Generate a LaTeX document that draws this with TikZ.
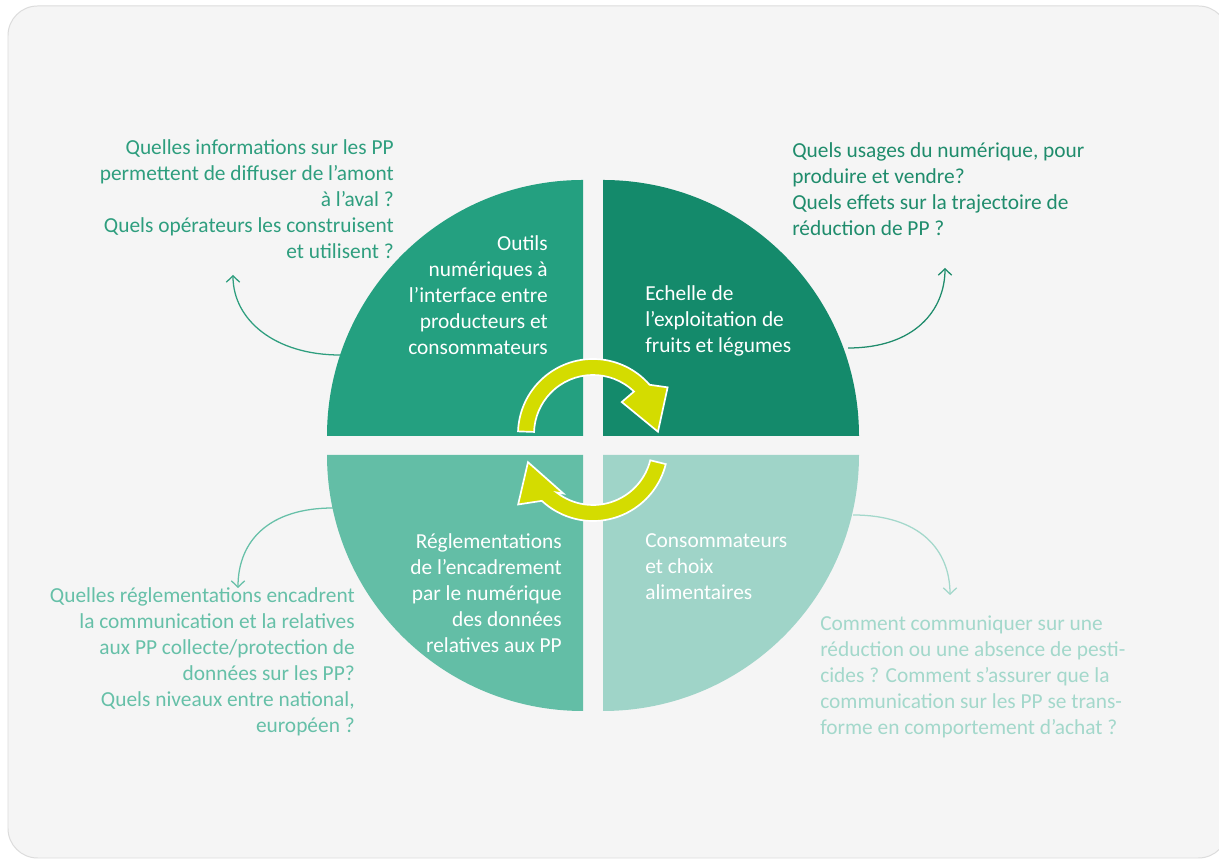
\documentclass[tikz,border=0pt]{standalone}
\usepackage{fontspec}
\setmainfont{Carlito}
\usepackage{xcolor}
\usetikzlibrary{arrows.meta}

\definecolor{bgGrey}{HTML}{F5F5F5}
\definecolor{frameGrey}{HTML}{DCDCDC}
\definecolor{quadTL}{HTML}{24A080}
\definecolor{quadTR}{HTML}{148A6B}
\definecolor{quadBL}{HTML}{63BEA6}
\definecolor{quadBR}{HTML}{9FD4C8}
\definecolor{txtTL}{HTML}{2E9E7E}
\definecolor{txtTR}{HTML}{1F8C6C}
\definecolor{txtBL}{HTML}{66C0A8}
\definecolor{txtBR}{HTML}{A3D8CB}
\definecolor{cycleYellow}{HTML}{D4DC00}

\begin{document}
\begin{tikzpicture}[x=0.025cm, y=0.025cm,
    question/.style={inner sep=0pt, font=\fontsize{15.2}{18.5}\selectfont},
    inlabel/.style={inner sep=0pt, text=white, font=\fontsize{15.2}{18.5}\selectfont},
    link/.style={line width=0.9pt, -{Straight Barb[length=4.5pt,width=9.5pt]}},
    turn/.style={fill=cycleYellow, draw=white, line width=1.2pt, line join=miter}]

    % page and rounded frame
    \useasboundingbox (0,0) rectangle (1219,860);
    \fill[white] (0,0) rectangle (1219,860);
    \draw[frameGrey, fill=bgGrey, line width=0.7pt, rounded corners=21pt] (8,854) rectangle (1228,2);

    % the four quarters
    \fill[quadTL] (583,424) -- ++(-256,0) arc[start angle=180, end angle=90, radius=256] -- cycle;
    \fill[quadTR] (603,424) -- ++(0,256) arc[start angle=90, end angle=0, radius=256] -- cycle;
    \fill[quadBL] (583,405) -- ++(0,-256) arc[start angle=270, end angle=180, radius=256] -- cycle;
    \fill[quadBR] (603,405) -- ++(256,0) arc[start angle=0, end angle=-90, radius=256] -- cycle;

    % yellow cycle arrows
    \begin{scope}[shift={(593,426)}]
        \filldraw[turn] (178:75) arc[start angle=178, end angle=41, radius=75]
            -- (32:88) -- (2:65) -- (48:43) -- (46:59)
            arc[start angle=46, end angle=178, radius=59] -- cycle;
    \end{scope}
    \begin{scope}[shift={(593,414)}]
        \filldraw[turn] (-14:75) arc[start angle=-14, end angle=-133, radius=75]
            -- (-142:95) -- (-166:67) -- (-122:56) -- (-128:59)
            arc[start angle=-128, end angle=-14, radius=59] -- cycle;
    \end{scope}

    % texts inside the quarters
    \node[inlabel, align=right, anchor=east] (tools) at (548,565)
        {Outils\\numériques à\\l’interface entre\\producteurs et\\consommateurs};
    \node[inlabel, align=left, anchor=west] (farm) at (645,539)
        {Echelle de\\l’exploitation de\\fruits et légumes};
    \node[inlabel, align=right, anchor=east] (rules) at (562,267)
        {Réglementations\\de l’encadrement\\par le numérique\\des données\\relatives aux PP};
    \node[inlabel, align=left, anchor=west] (buyers) at (645,293)
        {Consommateurs\\et choix\\alimentaires};

    % questions
    \node[question, text=txtTL, align=right, anchor=east] (qTools) at (394,661)
        {Quelles informations sur les PP\\permettent de diffuser de l’amont\\à l’aval ?\\Quels opérateurs les construisent\\et utilisent ?};
    \node[question, text=txtTR, align=left, anchor=west] (qFarm) at (792,671)
        {Quels usages du numérique, pour\\produire et vendre?\\Quels effets sur la trajectoire de\\réduction de PP ?};
    \node[question, text=txtBL, align=right, anchor=east] (qRules) at (355,198)
        {Quelles réglementations encadrent\\la communication et la relatives\\aux PP collecte/protection de\\données sur les PP?\\Quels niveaux entre national,\\européen ?};
    \node[question, text=txtBR, align=left, anchor=west] (qBuyers) at (820,183)
        {Comment communiquer sur une\\réduction ou une absence de pesti-\\cides ? Comment s’assurer que la\\communication sur les PP se trans-\\forme en comportement d’achat ?};

    % thin arrows from the circle to the questions
    \coordinate (tlStart) at (340,505);
    \coordinate (tlEnd) at (233,585);
    \coordinate (trStart) at (848,512);
    \coordinate (trEnd) at (945,592);
    \coordinate (blStart) at (333,352);
    \coordinate (blEnd) at (238,272);
    \coordinate (brStart) at (853,345);
    \coordinate (brEnd) at (950,265);
    \draw[link, txtTL] (tlStart) .. controls (275,505) and (233,540) .. (tlEnd);
    \draw[link, txtTR] (trStart) .. controls (915,512) and (945,550) .. (trEnd);
    \draw[link, txtBL] (blStart) .. controls (270,352) and (238,320) .. (blEnd);
    \draw[link, txtBR] (brStart) .. controls (920,345) and (950,310) .. (brEnd);
\end{tikzpicture}
\end{document}
